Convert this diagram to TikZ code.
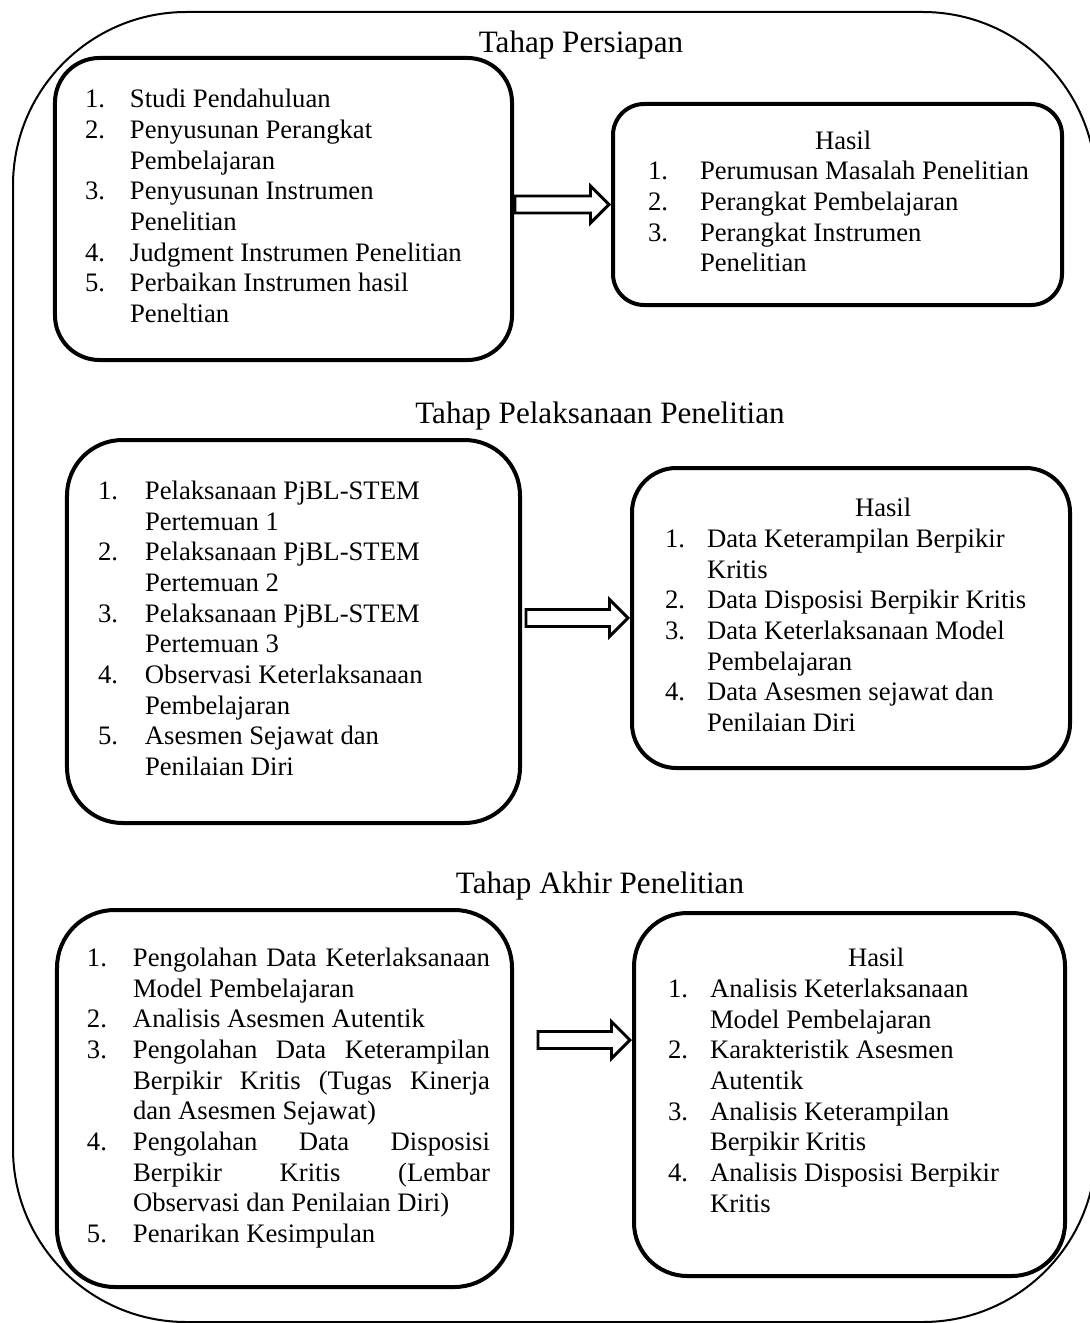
\documentclass[tikz,border=0pt]{standalone}
\usepackage{fontspec}
\setmainfont{Liberation Serif}
\usetikzlibrary{shapes.arrows}

% normal word spaces inside the boxes
\newcommand{\wordsp}{\spaceskip=0pt\xspaceskip=0pt}
% a justified line of the long list
\newcommand{\jline}[1]{\hbox to 160.65pt{\wordsp #1}}

\begin{document}
\begin{tikzpicture}[x=0.45pt, y=-0.45pt,
    stage/.style = {draw, line width=1.8pt, font=\fontsize{12}{13.8}\selectfont, align=left, inner sep=0pt},
    heading/.style = {font=\fontsize{14}{16}\selectfont, anchor=base},
    hollow/.style = {single arrow, draw, line width=1.3pt, inner sep=3.17pt, minimum width=15.35pt,
                     single arrow head extend=4.5pt, anchor=tip}]

    \useasboundingbox (0,0) rectangle (1089,1323);
    \draw[line width=0.9pt, rounded corners=78pt] (13,12) rectangle (1096,1322);

    % Tahap Persiapan
    \node[heading] (t1) at (581,53) {Tahap Persiapan};
    \node[stage, rounded corners=20pt, minimum width=205.65pt, minimum height=135.9pt, text width=178.65pt]
        (p1) at (283.5,209) {\wordsp\begin{tabular}{@{}p{20.25pt}@{}l@{}}
        1. & Studi Pendahuluan\\
        2. & Penyusunan Perangkat\\
           & Pembelajaran\\
        3. & Penyusunan Instrumen\\
           & Penelitian\\
        4. & Judgment Instrumen Penelitian\\
        5. & Perbaikan Instrumen hasil\\
           & Peneltian
        \end{tabular}};
    \node[stage, rounded corners=14pt, minimum width=202.05pt, minimum height=90.45pt, text width=170.55pt]
        (h1) at (837.5,204.5) {\wordsp\begin{tabular}{@{}p{23.4pt}@{}l@{}}
        \multicolumn{2}{@{}l@{}}{\hspace*{75.15pt}Hasil}\\
        1. & Perumusan Masalah Penelitian\\
        2. & Perangkat Pembelajaran\\
        3. & Perangkat Instrumen\\
           & Penelitian
        \end{tabular}};
    \node[hollow, minimum height=42.3pt] (a1) at (h1.west) {};

    % Tahap Pelaksanaan Penelitian
    \node[heading] (t2) at (600,423) {Tahap Pelaksanaan Penelitian};
    \node[stage, rounded corners=25pt, minimum width=203.85pt, minimum height=172.35pt, text width=175.95pt]
        (p2) at (293.5,631.5) {\wordsp\begin{tabular}{@{}p{21.15pt}@{}l@{}}
        1. & Pelaksanaan PjBL-STEM\\
           & Pertemuan 1\\
        2. & Pelaksanaan PjBL-STEM\\
           & Pertemuan 2\\
        3. & Pelaksanaan PjBL-STEM\\
           & Pertemuan 3\\
        4. & Observasi Keterlaksanaan\\
           & Pembelajaran\\
        5. & Asesmen Sejawat dan\\
           & Penilaian Diri
        \end{tabular}};
    \node[stage, rounded corners=20pt, minimum width=197.1pt, minimum height=135pt, text width=167.4pt]
        (h2) at (851,618) {\wordsp\begin{tabular}{@{}p{18.9pt}@{}l@{}}
        \multicolumn{2}{@{}l@{}}{\hspace*{85.5pt}Hasil}\\
        1. & Data Keterampilan Berpikir\\
           & Kritis\\
        2. & Data Disposisi Berpikir Kritis\\
        3. & Data Keterlaksanaan Model\\
           & Pembelajaran\\
        4. & Data Asesmen sejawat dan\\
           & Penilaian Diri
        \end{tabular}};
    \node[hollow, minimum height=45.9pt] (a2) at (h2.west) {};

    % Tahap Akhir Penelitian
    \node[heading] (t3) at (600,893) {Tahap Akhir Penelitian};
    \node[stage, rounded corners=26pt, minimum width=204.75pt, minimum height=169.65pt, text width=177.75pt]
        (p3) at (284.5,1098.5) {\wordsp\begin{tabular}{@{}p{20.7pt}@{}l@{}}
        1. & \jline{Pengolahan Data Keterlaksanaan}\\
           & Model Pembelajaran\\
        2. & Analisis Asesmen Autentik\\
        3. & \jline{Pengolahan Data Keterampilan}\\
           & \jline{Berpikir Kritis (Tugas Kinerja}\\
           & dan Asesmen Sejawat)\\
        4. & \jline{Pengolahan Data Disposisi}\\
           & \jline{Berpikir Kritis (Lembar}\\
           & Observasi dan Penilaian Diri)\\
        5. & Penarikan Kesimpulan
        \end{tabular}};
    \node[stage, rounded corners=24pt, minimum width=193.95pt, minimum height=163.35pt, text width=163.35pt]
        (h3) at (849.5,1094.5) {\wordsp\begin{tabular}{@{}p{18.9pt}@{}l@{}}
        \multicolumn{2}{@{}l@{}}{\hspace*{81pt}Hasil}\\
        1. & Analisis Keterlaksanaan\\
           & Model Pembelajaran\\
        2. & Karakteristik Asesmen\\
           & Autentik\\
        3. & Analisis Keterampilan\\
           & Berpikir Kritis\\
        4. & Analisis Disposisi Berpikir\\
           & Kritis\\[9.9pt]
        \end{tabular}};
    \node[hollow, minimum height=41.4pt] (a3) at (h3.west |- 0,1040) {};

\end{tikzpicture}
\end{document}
